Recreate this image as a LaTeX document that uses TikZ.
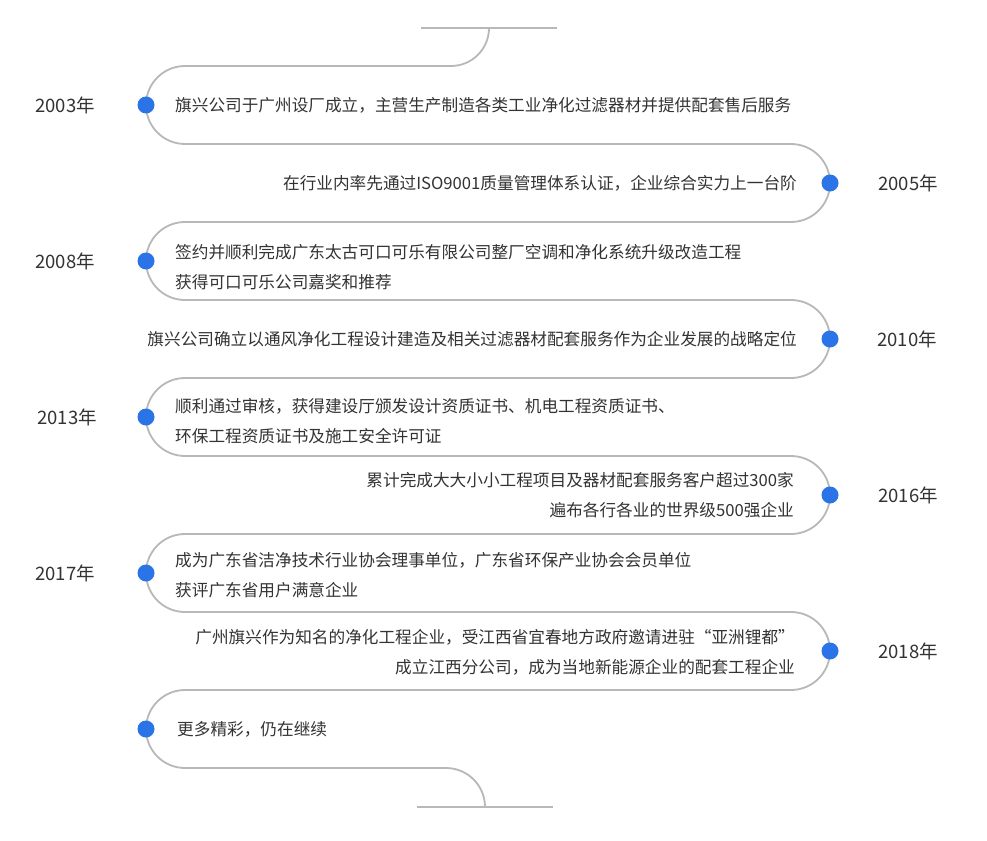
\documentclass[tikz,border=0pt]{standalone}
\usepackage{fontspec}
\setmainfont{Noto Sans CJK SC}
\definecolor{linegray}{RGB}{184,184,184}
\definecolor{dotblue}{RGB}{42,116,232}
\definecolor{txtgray}{RGB}{51,51,51}
\begin{document}
\begin{tikzpicture}[x=1pt,y=-1pt,
  tline/.style={draw=linegray,line width=1.8pt},
  dotnode/.style={circle,fill=dotblue,minimum size=17pt,inner sep=0pt},
  lefttext/.style={anchor=west,font=\fontsize{16.65}{30}\selectfont,text=txtgray,align=left,inner sep=0pt},
  righttext/.style={anchor=east,font=\fontsize{16.65}{30}\selectfont,text=txtgray,align=right,inner sep=0pt},
  yearnode/.style={font=\fontsize{18.5}{20}\selectfont,text=txtgray,inner sep=0pt}]
\useasboundingbox[fill=white] (0,0) rectangle (987,840);

% top and bottom short lines
\draw[tline] (421,28) -- (557,28);
\draw[tline] (417,807) -- (553,807);

% serpentine line
\draw[tline] (489,28) arc[start angle=0,end angle=90,radius=38] -- (185,66)
  arc[start angle=-90,end angle=-270,radius=39] -- (791,144)
  arc[start angle=-90,end angle=90,radius=39] -- (185,222)
  arc[start angle=-90,end angle=-270,radius=39] -- (791,300)
  arc[start angle=-90,end angle=90,radius=39] -- (185,378)
  arc[start angle=-90,end angle=-270,radius=39] -- (791,456)
  arc[start angle=-90,end angle=90,radius=39] -- (185,534)
  arc[start angle=-90,end angle=-270,radius=39] -- (791,612)
  arc[start angle=-90,end angle=90,radius=39] -- (185,690)
  arc[start angle=-90,end angle=-270,radius=39] -- (446,768)
  arc[start angle=-90,end angle=0,radius=39];

% dots
\node[dotnode] (d0) at (146,105) {};
\node[dotnode] (d1) at (830,183) {};
\node[dotnode] (d2) at (146,261) {};
\node[dotnode] (d3) at (830,339) {};
\node[dotnode] (d4) at (146,417) {};
\node[dotnode] (d5) at (830,495) {};
\node[dotnode] (d6) at (146,573) {};
\node[dotnode] (d7) at (830,651) {};
\node[dotnode] (d8) at (146,729) {};

% years
\node[yearnode] (y0) at (65,105) {2003年};
\node[yearnode] (y1) at (908,183) {2005年};
\node[yearnode] (y2) at (65,261) {2008年};
\node[yearnode] (y3) at (907,339) {2010年};
\node[yearnode] (y4) at (67,417) {2013年};
\node[yearnode] (y5) at (908,495) {2016年};
\node[yearnode] (y6) at (65,573) {2017年};
\node[yearnode] (y7) at (908,651) {2018年};

% texts
\node[lefttext] (t0) at (175,105) {旗兴公司于广州设厂成立，主营生产制造各类工业净化过滤器材并提供配套售后服务};
\node[righttext] (t1) at (797,183) {在行业内率先通过ISO9001质量管理体系认证，企业综合实力上一台阶};
\node[lefttext] (t2) at (175,267) {签约并顺利完成广东太古可口可乐有限公司整厂空调和净化系统升级改造工程\\获得可口可乐公司嘉奖和推荐};
\node[righttext] (t3) at (797,339) {旗兴公司确立以通风净化工程设计建造及相关过滤器材配套服务作为企业发展的战略定位};
\node[lefttext] (t4) at (175,421) {顺利通过审核，获得建设厅颁发设计资质证书、机电工程资质证书、\\环保工程资质证书及施工安全许可证};
\node[righttext] (t5) at (794,495) {累计完成大大小小工程项目及器材配套服务客户超过300家\\遍布各行各业的世界级500强企业};
\node[lefttext] (t6) at (175,575) {成为广东省洁净技术行业协会理事单位，广东省环保产业协会会员单位\\获评广东省用户满意企业};
\node[righttext] (t7) at (795,652) {广州旗兴作为知名的净化工程企业，受江西省宜春地方政府邀请进驻“亚洲锂都”\\成立江西分公司，成为当地新能源企业的配套工程企业};
\node[lefttext] (t8) at (177,729) {更多精彩，仍在继续};
\end{tikzpicture}
\end{document}
